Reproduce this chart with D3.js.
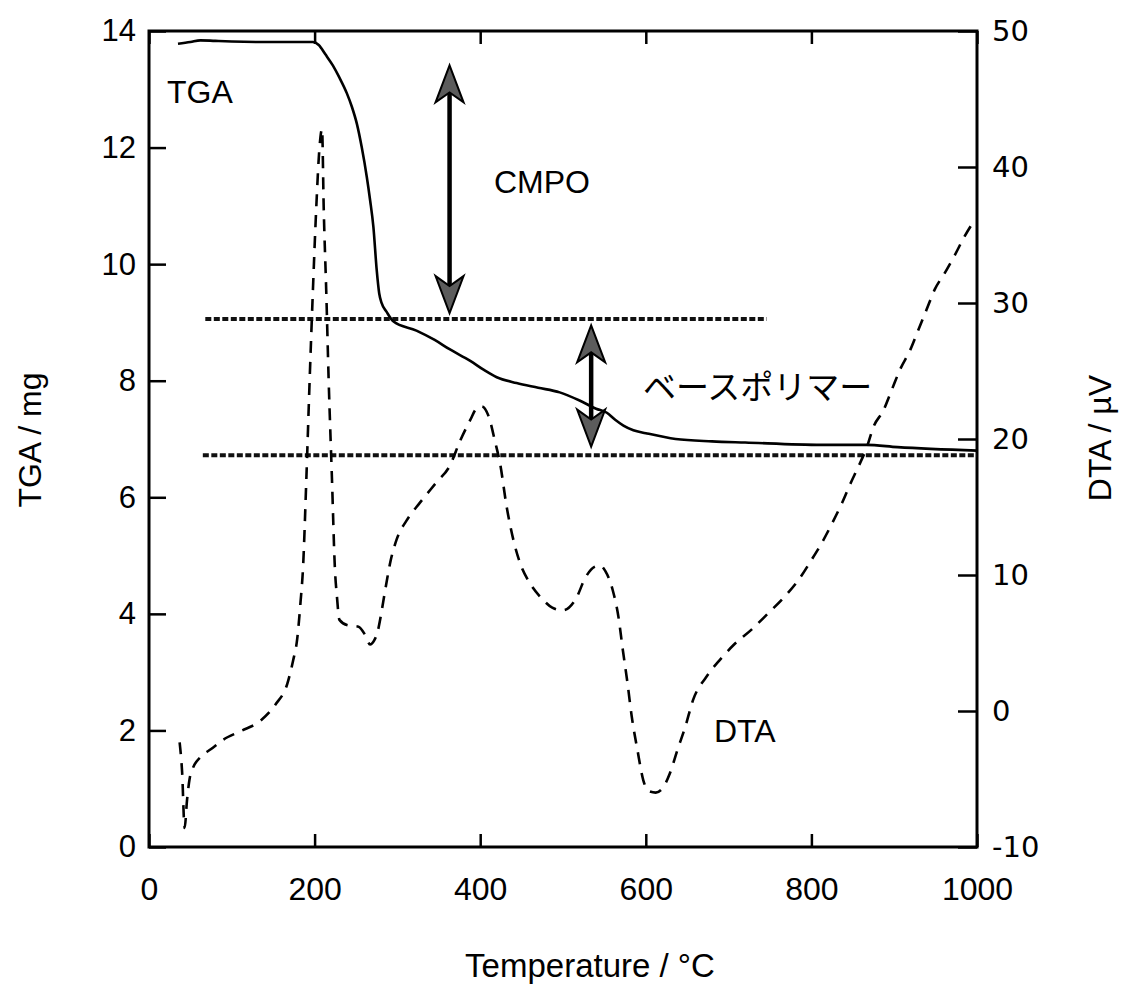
<!DOCTYPE html>
<html>
<head>
<meta charset="utf-8">
<script src="https://cdn.jsdelivr.net/npm/d3@7"></script>
<style>
  html, body { margin: 0; padding: 0; background: #fff; }
  svg { display: block; }
  text { font-family: "Liberation Sans", Arial, Helvetica, sans-serif; fill: #000; }
</style>
</head>
<body>
<svg id="chart" width="1129" height="984"></svg>
<script>
// ---------------- data ----------------
const xTicks = [0, 200, 400, 600, 800, 1000];
const tgaTicks = [0, 2, 4, 6, 8, 10, 12, 14];
const dtaTicks = [-10, 0, 10, 20, 30, 40, 50];

// TGA curve (temperature °C, mass mg)
const tgaT = [35, 50, 62, 80, 100, 150, 198, 205, 213, 222, 230, 239, 245, 251, 257, 263, 267, 271, 275, 278, 281, 287, 295, 323, 345, 363, 388, 405, 420, 444, 470, 496, 520, 540, 553, 563, 573, 585, 600, 636, 680, 720, 812, 866, 904, 1000];
const tgaV = [13.78, 13.81, 13.84, 13.83, 13.82, 13.81, 13.81, 13.76, 13.6, 13.41, 13.2, 12.93, 12.7, 12.41, 12.0, 11.5, 11.1, 10.64, 9.9, 9.5, 9.33, 9.18, 9.02, 8.86, 8.7, 8.54, 8.34, 8.18, 8.06, 7.96, 7.88, 7.80, 7.66, 7.52, 7.45, 7.33, 7.23, 7.15, 7.1, 7.0, 6.96, 6.94, 6.9, 6.9, 6.86, 6.8];

// DTA curve (temperature °C, µV)
const dtaT = [37, 40, 43, 46, 49, 53, 62, 75, 90, 110, 135, 153, 167, 174, 179, 183, 186, 190, 194, 198, 202, 206, 209, 211, 214, 217, 221, 224.5, 227, 230, 240, 253, 261, 267, 272, 276, 280, 285, 292, 299, 311, 327, 347, 363, 376, 388, 395, 402, 410, 418, 424, 432, 440, 448, 460, 474, 487, 500, 516, 527, 538, 545, 551, 560, 567, 572, 578, 583, 590, 597, 604, 612, 620, 629, 638, 648, 657, 673, 690, 706, 728, 748, 766, 784, 800, 812, 825, 837, 847, 857, 867, 875, 887, 897, 907, 919, 929, 939, 949, 961, 973, 985, 995];
const dtaV = [-2.3, -4.5, -8.6, -6.5, -5.0, -4.2, -3.4, -2.8, -2.1, -1.5, -0.7, 0.5, 2.0, 3.7, 5.3, 8.0, 10.5, 17, 24.3, 31, 37, 41.5, 42.8, 37, 31, 24.3, 17, 10.5, 8.4, 6.7, 6.3, 6.2, 5.6, 4.9, 5.2, 5.8, 7.0, 8.8, 11.1, 12.6, 14.0, 15.3, 16.8, 18.0, 19.9, 21.4, 22.2, 22.4, 21.7, 19.8, 18.2, 15.0, 12.6, 10.9, 9.4, 8.3, 7.6, 7.4, 8.3, 9.8, 10.6, 10.7, 10.3, 8.9, 6.9, 4.6, 2.0, -0.4, -2.9, -5.1, -5.9, -6.0, -5.7, -4.6, -2.9, -1.1, 0.8, 2.5, 3.8, 4.85, 6.0, 7.2, 8.3, 9.6, 11.1, 12.3, 13.8, 15.3, 16.7, 18.0, 19.4, 20.9, 22.1, 23.6, 25.1, 26.5, 28.0, 29.5, 31.0, 32.2, 33.5, 34.9, 35.9];

// horizontal reference levels (mg) and their temperature spans
const refLevels = [9.06, 6.72];
const refStart = [68, 65];
const refEnd = [746, 1000];

// double arrows: temperature, upper mg, lower mg
const arrowT = [363, 534];
const arrowTop = [13.41, 8.95];
const arrowBottom = [9.16, 6.87];

// labels
const annLabels = ["TGA", "CMPO", "ベースポリマー", "DTA"];

// ---------------- chart ----------------
const svg = d3.select("#chart");
const L = 149, R = 977, T = 31, B = 847;

const x = d3.scaleLinear().domain([0, 1000]).range([L, R]);
const yL = d3.scaleLinear().domain([0, 14]).range([B, T]);
const yR = d3.scaleLinear().domain([-10, 50]).range([B, T]);

const plain = d => String(d);

// axes
const gB = svg.append("g").attr("transform", `translate(0,${B})`)
  .call(d3.axisBottom(x).tickValues(xTicks).tickFormat(plain).tickSizeInner(-13).tickSizeOuter(0).tickPadding(30));
const gTop = svg.append("g").attr("transform", `translate(0,${T})`)
  .call(d3.axisTop(x).tickValues(xTicks).tickSizeInner(-13).tickSizeOuter(0).tickFormat(""));
const gL = svg.append("g").attr("transform", `translate(${L},0)`)
  .call(d3.axisLeft(yL).tickValues(tgaTicks).tickFormat(plain).tickSizeInner(-17).tickSizeOuter(0).tickPadding(13));
const gR = svg.append("g").attr("transform", `translate(${R},0)`)
  .call(d3.axisRight(yR).tickValues(dtaTicks).tickFormat(plain).tickSizeInner(-19).tickSizeOuter(0).tickPadding(15));

[gB, gTop, gL, gR].forEach(g => {
  g.select(".domain").remove();
  g.selectAll(".tick line").attr("stroke", "#000").attr("stroke-width", 2.5);
});
gB.selectAll(".tick text").attr("font-size", 32).attr("fill", "#000")
  .style("font-family", "'Liberation Sans', Arial, sans-serif");
gL.selectAll(".tick text").attr("font-size", 31).attr("fill", "#000")
  .style("font-family", "'Liberation Sans', Arial, sans-serif");
gR.selectAll(".tick text").attr("font-size", 29).attr("fill", "#000")
  .style("font-family", "'DejaVu Sans', Verdana, sans-serif");

// frame
svg.append("rect").attr("x", L).attr("y", T).attr("width", R - L).attr("height", B - T)
  .attr("fill", "none").attr("stroke", "#000").attr("stroke-width", 3);

// reference dashed levels
svg.append("g").selectAll("line").data(refLevels).join("line")
  .attr("x1", (d, i) => x(refStart[i])).attr("x2", (d, i) => x(refEnd[i]))
  .attr("y1", d => yL(d)).attr("y2", d => yL(d))
  .attr("stroke", "#111").attr("stroke-width", 4).attr("stroke-dasharray", "6,2.5");

// TGA line
const tgaData = tgaT.map((t, i) => [t, tgaV[i]]);
svg.append("path").datum(tgaData)
  .attr("fill", "none").attr("stroke", "#000").attr("stroke-width", 2.6)
  .attr("d", d3.line().x(d => x(d[0])).y(d => yL(d[1])).curve(d3.curveMonotoneX));

// DTA line
const dtaData = dtaT.map((t, i) => [t, dtaV[i]]);
svg.append("path").datum(dtaData)
  .attr("fill", "none").attr("stroke", "#000").attr("stroke-width", 2.6)
  .attr("stroke-dasharray", "12,9")
  .attr("d", d3.line().x(d => x(d[0])).y(d => yR(d[1])).curve(d3.curveMonotoneX));

// double arrows
const headLen = 37, headHalf = 14, notch = 27;
const ga = svg.append("g");
arrowT.forEach((t, i) => {
  const ax = x(t), y1 = yL(arrowTop[i]), y2 = yL(arrowBottom[i]);
  ga.append("line").attr("x1", ax).attr("x2", ax)
    .attr("y1", y1 + notch).attr("y2", y2 - notch)
    .attr("stroke", "#000").attr("stroke-width", 4.5);
  ga.append("path")
    .attr("d", `M${ax},${y1} L${ax + headHalf},${y1 + headLen} L${ax},${y1 + notch} L${ax - headHalf},${y1 + headLen} Z`)
    .attr("fill", "#5c5c5c").attr("stroke", "#000").attr("stroke-width", 2).attr("stroke-linejoin", "miter");
  ga.append("path")
    .attr("d", `M${ax},${y2} L${ax + headHalf},${y2 - headLen} L${ax},${y2 - notch} L${ax - headHalf},${y2 - headLen} Z`)
    .attr("fill", "#5c5c5c").attr("stroke", "#000").attr("stroke-width", 2).attr("stroke-linejoin", "miter");
});

// annotations
svg.append("text").attr("x", 167).attr("y", 103).attr("font-size", 32).text(annLabels[0]);
svg.append("text").attr("x", 494).attr("y", 193).attr("font-size", 32).text(annLabels[1]);
svg.append("text").attr("x", 643).attr("y", 399).attr("font-size", 33)
  .style("font-family", "'Noto Sans CJK JP', 'Noto Sans CJK SC', sans-serif").text(annLabels[2]);
svg.append("text").attr("x", 714).attr("y", 742).attr("font-size", 32).text(annLabels[3]);

// axis titles
svg.append("text").attr("x", 590).attr("y", 977).attr("text-anchor", "middle")
  .attr("font-size", 33).text("Temperature / °C");
svg.append("text").attr("transform", "translate(41,440) rotate(-90)").attr("text-anchor", "middle")
  .attr("font-size", 32).text("TGA / mg");
svg.append("text").attr("transform", "translate(1111,438) rotate(-90)").attr("text-anchor", "middle")
  .attr("font-size", 32).text("DTA / µV");
</script>
</body>
</html>
